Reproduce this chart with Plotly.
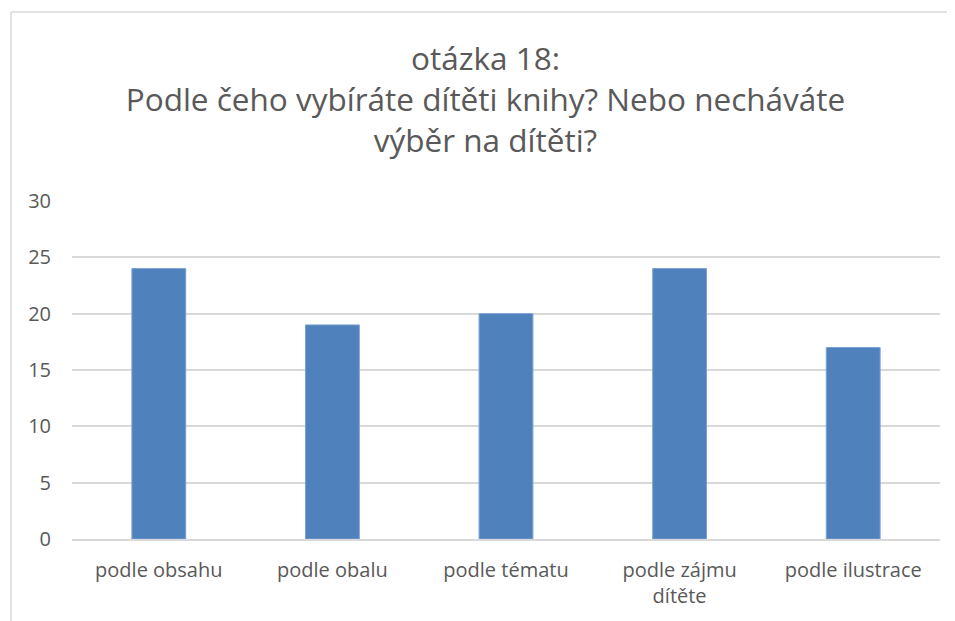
import plotly.graph_objects as go

# survey answers, question 18
categories = ["podle obsahu", "podle obalu", "podle tématu", "podle zájmu<br>dítěte", "podle ilustrace"]
counts = [24, 19, 20, 24, 17]
y_ticks = [0, 5, 10, 15, 20, 25, 30]

title_text = "otázka 18:<br>Podle čeho vybíráte dítěti knihy? Nebo necháváte<br>výběr na dítěti?"

fig = go.Figure()
fig.add_trace(go.Bar(
    x=categories, y=counts,
    marker=dict(color="#4f81bd", line=dict(color="#7aa0d0", width=1)),
))

fig.update_layout(
    width=955, height=621,
    margin=dict(l=64, r=23, t=193, b=90),
    paper_bgcolor="white", plot_bgcolor="white",
    font=dict(family="Open Sans, sans-serif", color="#595959", size=20),
    title=dict(text=title_text, x=0.5, xanchor="center", y=0.90, yanchor="top",
               font=dict(size=31.5, color="#595959")),
    bargap=0.69,
    showlegend=False,
    shapes=[
        # chart frame (cropped on right and bottom)
        dict(type="line", xref="paper", yref="paper", x0=-0.0703, x1=1.1, y0=1.559, y1=1.559,
             line=dict(color="#d9d9d9", width=1.5)),
        dict(type="line", xref="paper", yref="paper", x0=-0.0703, x1=-0.0703, y0=-0.3, y1=1.559,
             line=dict(color="#d9d9d9", width=1.5)),
    ],
)
fig.update_yaxes(range=[0, 30], tickvals=y_ticks, showgrid=True, gridcolor="#d9d9d9", gridwidth=1.5,
                 zeroline=False, showline=False, ticks="", ticklabelstandoff=20)
fig.update_xaxes(showline=True, linecolor="#d9d9d9", linewidth=1.5, ticks="", ticklabelstandoff=12)

fig.write_html("out.html")
